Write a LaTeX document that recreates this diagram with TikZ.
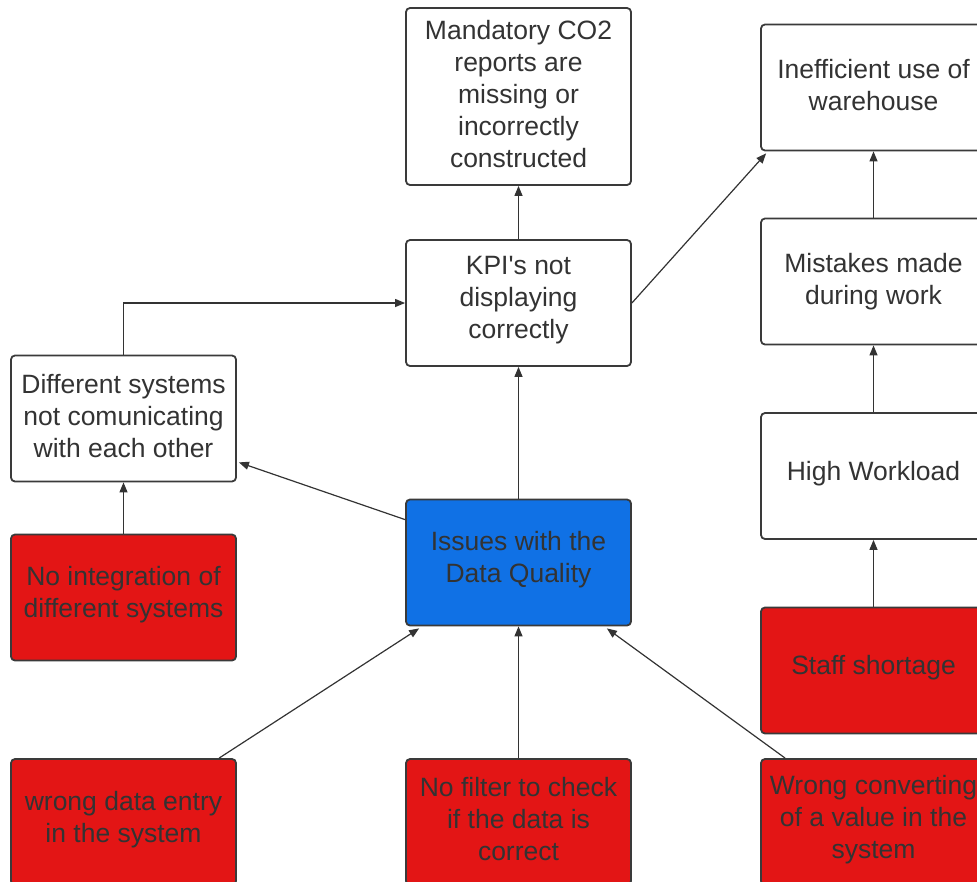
\documentclass[tikz,border=0pt]{standalone}
\usepackage{fontspec}
\setmainfont{Liberation Sans}
\usetikzlibrary{arrows.meta}
\definecolor{txt}{HTML}{333333}
\definecolor{bordc}{HTML}{3A3A3A}
\definecolor{redf}{HTML}{E31515}
\definecolor{bluef}{HTML}{1071E5}
\newcommand\mybox[5][]{%
  \node[#2,#1] (#3) at (#4) {};
  \node[boxtext] (#3t) at ([yshift=2.5pt]#3.center) {#5};}
\begin{document}
\begin{tikzpicture}[x=1pt,y=-1pt,
 box/.style={draw=bordc, line width=1.8pt, rounded corners=4pt, minimum width=225pt, minimum height=126pt, inner sep=0pt, fill=white},
 boxtext/.style={inner sep=0pt, align=center, text=txt, font=\fontsize{26.5}{32}\selectfont},
 redbox/.style={box, fill=redf},
 bluebox/.style={box, fill=bluef},
 conn/.style={draw=txt, line width=1.2pt, -{Triangle[length=10pt,width=8pt]}}]
\useasboundingbox (0,0) rectangle (977,881);
\clip (0,0) rectangle (977,881);
\mybox[minimum height=177pt]{box}{co2}{518.5,96.5}{Mandatory CO2\\reports are\\missing or\\incorrectly\\constructed}
\mybox{box}{kpi}{518.5,303}{KPI\textquotesingle s not\\displaying\\correctly}
\mybox{box}{ineff}{873.5,87.5}{Inefficient use of\\warehouse}
\node[box] (mistakes) at (873.5,281.5) {};
\node[boxtext] (mistakest) at ([yshift=-0.5pt]mistakes.center) {Mistakes made\\during work};
\mybox{box}{work}{873.5,476}{High Workload}
\mybox{redbox}{staff}{873.5,670.5}{Staff shortage}
\mybox{box}{diff}{123.5,418.5}{Different systems\\not comunicating\\with each other}
\mybox{redbox}{noint}{123.5,597.5}{No integration of\\different systems}
\mybox{bluebox}{issues}{518.5,562.5}{Issues with the\\Data Quality}
\mybox{redbox}{wrong}{123.5,822}{wrong data entry\\in the system}
\mybox{redbox}{nofilter}{518.5,822}{No filter to check\\if the data is\\correct}
\mybox{redbox}{conv}{873.5,822}{Wrong converting\\of a value in the\\system}
\draw[conn] (kpi.north) -- (co2.south);
\draw[conn] (kpi.east) -- ([xshift=6pt,yshift=-2pt]ineff.south west);
\draw[conn] (mistakes.north) -- (ineff.south);
\draw[conn] (work.north) -- (mistakes.south);
\draw[conn] (staff.north) -- (work.south);
\draw[conn] (diff.north) |- (kpi.west);
\draw[conn] (noint.north) -- (diff.south);
\draw[conn] ([yshift=-21pt]issues.north west) -- ([xshift=2pt,yshift=20pt]diff.south east);
\draw[conn] (issues.north) -- (kpi.south);
\draw[conn] ([xshift=209pt]wrong.north west) -- ([xshift=14pt,yshift=-2pt]issues.south west);
\draw[conn] (nofilter.north) -- (issues.south);
\draw[conn] ([xshift=25pt]conv.north west) -- ([xshift=-25pt,yshift=-2pt]issues.south east);
\end{tikzpicture}
\end{document}
